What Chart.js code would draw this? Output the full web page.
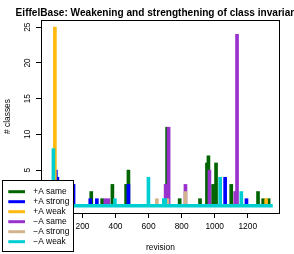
<!DOCTYPE html>
<html>
<head>
<meta charset="utf-8">
<script src="https://cdn.jsdelivr.net/npm/chart.js@4/dist/chart.umd.min.js"></script>
<style>
  html, body { margin: 0; padding: 0; background: #fff; }
</style>
</head>
<body>
<canvas id="myChart" width="294" height="254"></canvas>
<script>
// revisions / number of classes per series
const aSameRev = [253, 319, 381, 464, 478, 712, 788, 911, 953, 962, 990, 1008, 1100, 1262, 1293, 1326];
const aSameVal = [2, 1, 3, 3, 5, 11, 1, 1, 6, 7, 3, 6, 3, 2, 1, 1];
const aStrongRev = [39, 48, 146, 247, 287, 478, 1063, 1192];
const aStrongVal = [5, 4, 3, 1, 1, 3, 4, 1];
const aWeakRev = [33, 1311];
const aWeakVal = [25, 1];
const mSameRev = [338, 357, 703, 721, 823, 968, 1124, 1135];
const mSameVal = [1, 1, 3, 11, 3, 5, 2, 24];
const mStrongRev = [650, 714, 823];
const mStrongVal = [1, 1, 2];
const mWeakRev = [24, 396, 599, 692, 700, 1033, 1161];
const mWeakVal = [8, 1, 4, 1, 1, 4, 2];
const baseRev = [1, 1351];   // first / last revision (zero line)

const seriesNames = ['+A same', '+A strong', '+A weak', '\u2212A same', '\u2212A strong', '\u2212A weak'];
const seriesColors = ['#006400', '#0000ff', '#ffb90f', '#9932cc', '#d2b48c', '#00ced1'];
const xTicks = [0, 200, 400, 600, 800, 1000, 1200];
const yTicks = [0, 5, 10, 15, 20, 25];
const titleText = 'EiffelBase: Weakening and strengthening of class invariants';

const FONT = '"Liberation Sans", Arial, sans-serif';
const revs = [aSameRev, aStrongRev, aWeakRev, mSameRev, mStrongRev, mWeakRev];
const vals = [aSameVal, aStrongVal, aWeakVal, mSameVal, mStrongVal, mWeakVal];

const datasets = seriesNames.map((name, i) => ({
  type: 'bar',
  label: name,
  data: revs[i].map((r, j) => ({ x: r, y: vals[i][j] })),
  backgroundColor: seriesColors[i],
  barThickness: 3,
  grouped: false,
  order: 6 - i
}));
datasets.push({
  type: 'line',
  label: 'zero',
  data: baseRev.map(r => ({ x: r, y: 0 })),
  borderColor: seriesColors[5],
  borderWidth: 3.5,
  pointRadius: 0,
  order: 0
});

const decor = {
  id: 'decor',
  afterDraw(chart) {
    const { ctx, chartArea: a, scales } = chart;
    ctx.save();
    // plot box
    ctx.strokeStyle = '#000';
    ctx.lineWidth = 1;
    ctx.strokeRect(Math.round(a.left) + 0.5, Math.round(a.top) + 0.5,
      Math.round(a.right - a.left) - 1, Math.round(a.bottom - a.top));
    // title
    ctx.fillStyle = '#000';
    ctx.font = 'bold 10.1px ' + FONT;
    ctx.textAlign = 'center';
    ctx.textBaseline = 'middle';
    ctx.fillText(titleText, (a.left + a.right) / 2, 13);
    // y tick labels, rotated like R
    ctx.font = '8.4px ' + FONT;
    yTicks.forEach(v => {
      const py = scales.y.getPixelForValue(v);
      ctx.save();
      ctx.translate(28, py);
      ctx.rotate(-Math.PI / 2);
      ctx.fillText(String(v), 0, 0);
      ctx.restore();
    });
    // legend
    const lx = 2.5, ly = 180.5, lw = 71, lh = 71;
    ctx.fillStyle = '#fff';
    ctx.fillRect(lx, ly, lw, lh);
    ctx.strokeStyle = '#000';
    ctx.strokeRect(lx, ly, lw, lh);
    ctx.textAlign = 'left';
    seriesNames.forEach((name, i) => {
      const ry = 191.7 + i * 10;
      ctx.strokeStyle = seriesColors[i];
      ctx.lineWidth = 3;
      ctx.beginPath();
      ctx.moveTo(8.3, ry);
      ctx.lineTo(25, ry);
      ctx.stroke();
      ctx.fillStyle = '#000';
      ctx.fillText(name, 33.3, ry);
    });
    ctx.restore();
  }
};

new Chart(document.getElementById('myChart'), {
  type: 'bar',
  data: { datasets },
  options: {
    responsive: false,
    animation: false,
    devicePixelRatio: 1,
    layout: { padding: { left: 0, right: 14, top: 20, bottom: 0 } },
    plugins: { legend: { display: false }, tooltip: { enabled: false } },
    scales: {
      x: {
        type: 'linear',
        offset: false,
        min: -51,
        max: 1395,
        afterBuildTicks: s => { s.ticks = xTicks.map(v => ({ value: v })); },
        afterFit: s => { s.height = 41; },
        grid: { offset: false, drawOnChartArea: false, drawTicks: true, tickLength: 5, color: '#000' },
        border: { display: false },
        ticks: { color: '#000', font: { family: FONT, size: 8.4 }, padding: 4, maxRotation: 0, autoSkip: false,
          callback: v => String(v) },
        title: { display: true, text: 'revision', color: '#000', font: { family: FONT, size: 8.4 }, padding: { top: 0, bottom: 1 } }
      },
      y: {
        min: -1,
        max: 26,
        afterBuildTicks: s => { s.ticks = yTicks.map(v => ({ value: v })); },
        afterFit: s => { s.width = 41; },
        grid: { drawOnChartArea: false, drawTicks: true, tickLength: 5, color: '#000' },
        border: { display: false },
        ticks: { color: 'rgba(0,0,0,0)', font: { family: FONT, size: 8.4 } },
        title: { display: true, text: '# classes', color: '#000', font: { family: FONT, size: 8.4 }, padding: { top: 3, bottom: 0 } }
      }
    }
  },
  plugins: [decor]
});
</script>
</body>
</html>
